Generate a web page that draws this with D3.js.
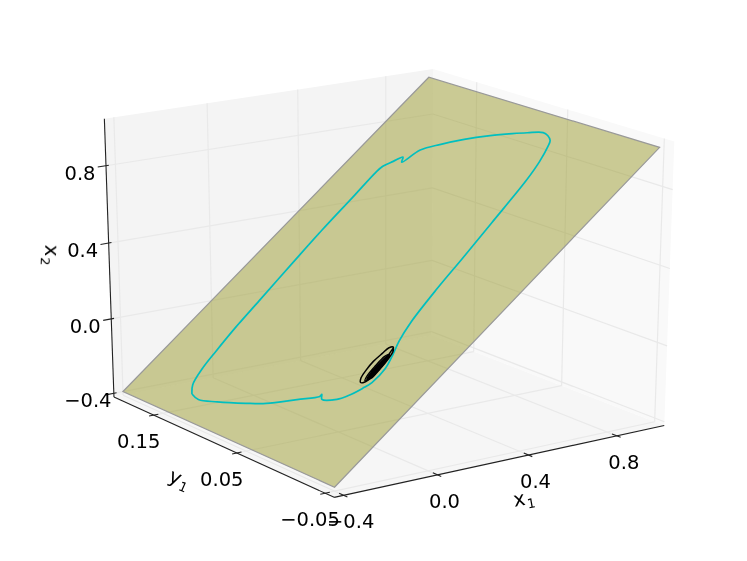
<!DOCTYPE html>
<html><head><meta charset="utf-8"><style>html,body{margin:0;background:#fff}svg{display:block}text{font-family:"DejaVu Sans";fill:#000}</style></head><body>
<svg width="747" height="561"></svg>
<script src="https://cdn.jsdelivr.net/npm/d3@7"></script>
<script>
// axis limits and ticks
var xLim = [-0.44, 1.02], yLim = [-0.06, 0.2], zLim = [-0.42, 1.04];
var xTicks = [-0.4, 0, 0.4, 0.8], yTicks = [-0.05, 0.05, 0.15], zTicks = [-0.4, 0, 0.4, 0.8];
var xTickLabels = ["\u22120.4", "0.0", "0.4", "0.8"];
var yTickLabels = ["\u22120.05", "0.05", "0.15"];
var zTickLabels = ["\u22120.4", "0.0", "0.4", "0.8"];

// plane x2 = x1
var planeX = [-0.4, 1], planeY = [-0.05, 0.2];

// trajectory, it lies on the plane so x2 = x1
var orbitX = [-0.314,-0.322,-0.304,-0.271,-0.245,-0.194,-0.156,-0.147,-0.162,-0.143,-0.119,-0.079,-0.050,0.007,0.062,0.107,0.177,0.314,0.435,0.581,0.755,0.831,0.889,0.912,0.926,0.931,0.914,0.895,0.865,0.825,0.783,0.741,0.680,0.698,0.673,0.645,0.618,0.506,0.365,0.231,0.061,-0.053,-0.151,-0.227,-0.285,-0.314];
var orbitY = [0.138,0.128,0.110,0.085,0.068,0.046,0.030,0.030,0.026,0.014,0.008,0.002,-0.001,-0.001,0.004,0.009,0.014,0.019,0.022,0.026,0.031,0.035,0.040,0.043,0.049,0.055,0.068,0.080,0.097,0.116,0.132,0.145,0.151,0.154,0.159,0.164,0.165,0.164,0.163,0.161,0.158,0.156,0.153,0.150,0.145,0.138];

// the small spiral it settles on
var spiralX = [0.082,0.069,0.040,0.003,-0.033,-0.057,-0.064,-0.051,-0.023,0.015,0.050,0.075,0.082,0.056,0.038,-0.001,-0.039,-0.053,-0.034,0.005,0.043,0.056];
var spiralY = [0.009,0.006,0.004,0.003,0.003,0.005,0.008,0.011,0.013,0.014,0.013,0.012,0.009,0.007,0.004,0.003,0.003,0.006,0.008,0.009,0.009,0.007];

// inner turns, too tight to tell apart
var coreX = [-0.046,-0.020,0.020,0.052,0.020,-0.020,-0.046,0.000,0.040,0.000,-0.040];
var coreY = [0.0050,0.0040,0.0045,0.0065,0.0070,0.0065,0.0050,0.0050,0.0060,0.0060,0.0050];

var svg = d3.select("svg");
var g = svg.append("g").attr("filter", "url(#soft)");
svg.append("defs").append("filter").attr("id", "soft")
    .append("feGaussianBlur").attr("stdDeviation", 0.45);

// same kind of view as mplot3d: unit box, camera at elev/azim, then stretched 4:3
var elev = 20.5 * Math.PI / 180, azim = -125 * Math.PI / 180, dist = 10;
var sx = d3.scaleLinear().domain(xLim).range([-0.5, 0.5]);
var sy = d3.scaleLinear().domain(yLim).range([-0.5, 0.5]);
var sz = d3.scaleLinear().domain(zLim).range([-0.5, 0.5]);
var screenX = d3.scaleLinear().domain([-1, 1]).range([386 - 402, 386 + 402]);
var screenY = d3.scaleLinear().domain([-1, 1]).range([273 + 300, 273 - 300]);

var n = [Math.cos(elev) * Math.cos(azim), Math.cos(elev) * Math.sin(azim), Math.sin(elev)];
var r = [-Math.sin(azim), Math.cos(azim), 0];
var up = [n[1] * r[2] - n[2] * r[1], n[2] * r[0] - n[0] * r[2], n[0] * r[1] - n[1] * r[0]];
function dot(a, b) { return a[0] * b[0] + a[1] * b[1] + a[2] * b[2]; }
function project(x, y, z) {
  var p = [sx(x), sy(y), sz(z)];
  var w = dist / (dist - dot(n, p));
  return [screenX(dot(r, p) * w), screenY(dot(up, p) * w)];
}

var x0 = xLim[0], x1 = xLim[1], y0 = yLim[0], y1 = yLim[1], z0 = zLim[0], z1 = zLim[1];

// panes
function pane(pts, fill) {
  g.append("polygon").attr("points", pts.join(" ")).attr("fill", fill);
}
pane([project(x0,y1,z0), project(x1,y1,z0), project(x1,y1,z1), project(x0,y1,z1)], "#f4f4f4");
pane([project(x1,y1,z0), project(x1,y0,z0), project(x1,y0,z1), project(x1,y1,z1)], "#f9f9f9");
pane([project(x0,y1,z0), project(x0,y0,z0), project(x1,y0,z0), project(x1,y1,z0)], "#f6f6f6");

// grid
function seg(a, b, stroke, w) {
  g.append("line").attr("x1", a[0]).attr("y1", a[1]).attr("x2", b[0]).attr("y2", b[1])
      .attr("stroke", stroke).attr("stroke-width", w);
}
var gridColor = "#e9e9e9";
xTicks.forEach(function(t) {
  seg(project(t,y0,z0), project(t,y1,z0), gridColor, 1.2);
  seg(project(t,y1,z0), project(t,y1,z1), gridColor, 1.2);
});
yTicks.forEach(function(t) {
  seg(project(x0,t,z0), project(x1,t,z0), gridColor, 1.2);
  seg(project(x1,t,z0), project(x1,t,z1), gridColor, 1.2);
});
zTicks.forEach(function(t) {
  seg(project(x0,y1,t), project(x1,y1,t), gridColor, 1.2);
  seg(project(x1,y1,t), project(x1,y0,t), gridColor, 1.2);
});

// plane
g.append("polygon")
    .attr("points", [project(planeX[0],planeY[1],planeX[0]), project(planeX[1],planeY[1],planeX[1]),
                     project(planeX[1],planeY[0],planeX[1]), project(planeX[0],planeY[0],planeX[0])].join(" "))
    .attr("fill", "#9c9c30").attr("fill-opacity", 0.5)
    .attr("stroke", "#999").attr("stroke-width", 1.2);

// curves
var line = d3.line().curve(d3.curveCatmullRom.alpha(0.5));
g.append("path")
    .attr("d", line(orbitX.map(function(d, i) { return project(d, orbitY[i], d); })))
    .attr("fill", "none").attr("stroke", "#00bfbf").attr("stroke-width", 1.7);
g.append("path")
    .attr("d", line(spiralX.map(function(d, i) { return project(d, spiralY[i], d); })))
    .attr("fill", "none").attr("stroke", "#000").attr("stroke-width", 1.5);
g.append("path")
    .attr("d", line(coreX.map(function(d, i) { return project(d, coreY[i], d); })))
    .attr("fill", "none").attr("stroke", "#000").attr("stroke-width", 3);

// axis lines
seg(project(x0,y1,z0), project(x0,y0,z0), "#222", 1.1);
seg(project(x0,y0,z0), project(x1,y0,z0), "#222", 1.1);
seg(project(x0,y1,z0), project(x0,y1,z1), "#222", 1.1);

// ticks and labels
function label(p, s, dx, dy) {
  g.append("text").attr("x", p[0] + dx).attr("y", p[1] + dy)
      .attr("text-anchor", "middle").attr("font-size", 19.5).text(s);
}
xTicks.forEach(function(t, i) {
  seg(project(t,y0+0.005,z0), project(t,y0-0.004,z0), "#222", 1.1);
  label(project(t,y0,z0), xTickLabels[i], 7, 33);
});
yTicks.forEach(function(t, i) {
  seg(project(x0-0.02,t,z0), project(x0+0.02,t,z0), "#222", 1.1);
  label(project(x0,t,z0), yTickLabels[i], -15, 33);
});
zTicks.forEach(function(t, i) {
  seg(project(x0-0.035,y1,t), project(x0+0.012,y1,t), "#222", 1.1);
  label(project(x0,y1,t), zTickLabels[i], -26, 14);
});

// axis titles
function title(px, py, rot, a, b) {
  var t = g.append("text").attr("transform", "translate(" + px + "," + py + ") rotate(" + rot + ")")
      .attr("text-anchor", "middle").attr("font-size", 20);
  t.append("tspan").text(a);
  t.append("tspan").attr("font-size", 13).attr("dy", 4).attr("dx", 1).text(b);
}
title(525, 505, -10, "x", "1");
title(177, 485, 24, "y", "1");
title(45, 255, 92, "x", "2");
</script></body></html>
